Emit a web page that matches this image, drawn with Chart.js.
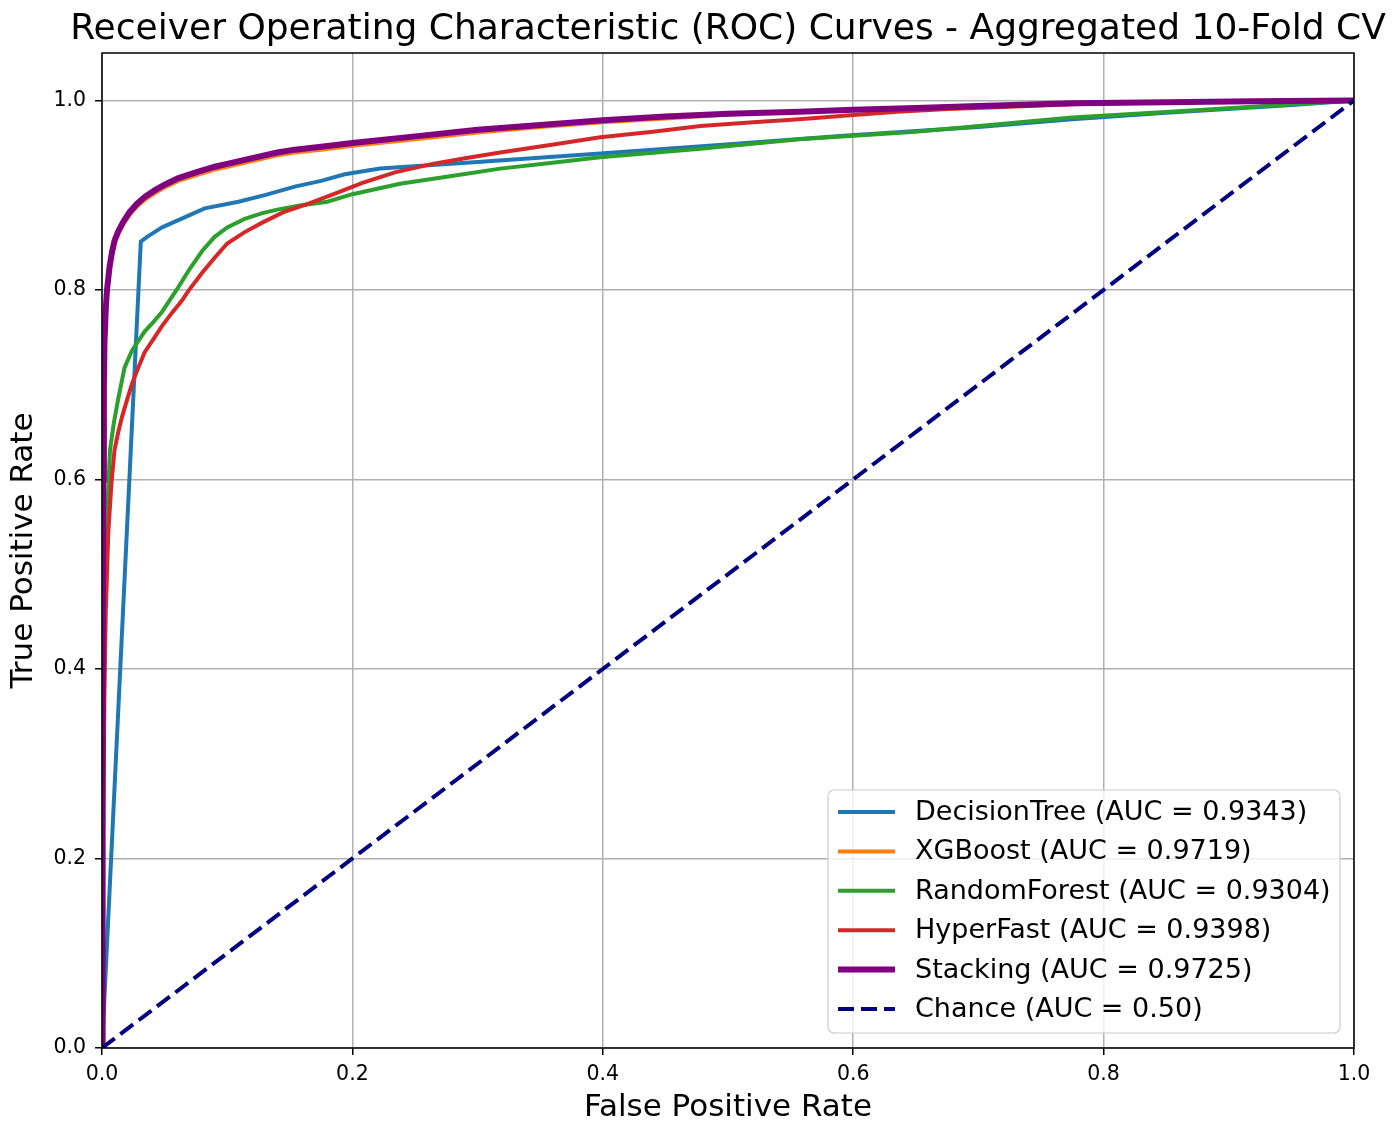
<!DOCTYPE html>
<html>
<head>
<meta charset="utf-8">
<script src="https://cdn.jsdelivr.net/npm/chart.js@4.4.1/dist/chart.umd.min.js"></script>
<style>
  html, body { margin: 0; padding: 0; background: #fff; }
  #wrap { width: 1398px; height: 1123px; }
</style>
</head>
<body>
<div id="wrap"><canvas id="rocChart" width="1398" height="1123"></canvas></div>
<script>
// ROC curve points
const fprDecisionTree = [0, 0.031, 0.036, 0.048, 0.065, 0.082, 0.109, 0.13, 0.154, 0.175, 0.194, 0.222, 0.30, 0.398, 0.504, 0.595, 0.70, 0.775, 0.85, 0.951, 1.0];
const tprDecisionTree = [0, 0.851, 0.856, 0.866, 0.876, 0.886, 0.893, 0.900, 0.909, 0.915, 0.922, 0.928, 0.935, 0.944, 0.954, 0.963, 0.972, 0.980, 0.987, 0.995, 1.0];

const fprXGBoost = [0, 0.0005, 0.001, 0.0015, 0.002, 0.003, 0.004, 0.006, 0.008, 0.010, 0.013, 0.017, 0.022, 0.028, 0.034, 0.042, 0.050, 0.061, 0.075, 0.090, 0.10, 0.12, 0.14, 0.154, 0.175, 0.20, 0.25, 0.30, 0.35, 0.40, 0.45, 0.50, 0.557, 0.60, 0.65, 0.70, 0.775, 0.85, 0.92, 1.0];
const tprXGBoost = [0, 0.34, 0.59, 0.69, 0.74, 0.775, 0.797, 0.821, 0.837, 0.849, 0.859, 0.869, 0.879, 0.888, 0.895, 0.902, 0.908, 0.915, 0.921, 0.927, 0.930, 0.936, 0.942, 0.945, 0.948, 0.952, 0.959, 0.966, 0.972, 0.977, 0.981, 0.985, 0.988, 0.990, 0.992, 0.994, 0.997, 0.998, 0.999, 1.0];

const fprRandomForest = [0, 0.0005, 0.001, 0.002, 0.003, 0.004, 0.0064, 0.0095, 0.0128, 0.018, 0.024, 0.029, 0.034, 0.041, 0.048, 0.054, 0.061, 0.070, 0.080, 0.090, 0.10, 0.114, 0.128, 0.141, 0.158, 0.18, 0.20, 0.238, 0.278, 0.318, 0.358, 0.398, 0.478, 0.557, 0.65, 0.775, 0.88, 0.951, 1.0];
const tprRandomForest = [0, 0.15, 0.30, 0.42, 0.50, 0.56, 0.631, 0.66, 0.684, 0.718, 0.736, 0.746, 0.756, 0.766, 0.777, 0.789, 0.803, 0.822, 0.841, 0.856, 0.866, 0.875, 0.881, 0.885, 0.889, 0.893, 0.901, 0.912, 0.920, 0.928, 0.934, 0.940, 0.949, 0.959, 0.967, 0.982, 0.990, 0.996, 1.0];

const fprHyperFast = [0, 0.0005, 0.001, 0.002, 0.003, 0.005, 0.0075, 0.010, 0.013, 0.016, 0.020, 0.024, 0.029, 0.034, 0.042, 0.048, 0.056, 0.064, 0.069, 0.08, 0.09, 0.10, 0.114, 0.128, 0.145, 0.165, 0.185, 0.208, 0.234, 0.264, 0.29, 0.318, 0.358, 0.398, 0.44, 0.478, 0.52, 0.557, 0.595, 0.635, 0.675, 0.72, 0.775, 0.85, 0.92, 1.0];
const tprHyperFast = [0, 0.12, 0.25, 0.38, 0.46, 0.543, 0.595, 0.631, 0.650, 0.666, 0.684, 0.701, 0.718, 0.734, 0.750, 0.762, 0.776, 0.789, 0.799, 0.818, 0.834, 0.849, 0.861, 0.871, 0.882, 0.891, 0.901, 0.913, 0.924, 0.933, 0.939, 0.945, 0.953, 0.961, 0.967, 0.973, 0.977, 0.980, 0.984, 0.988, 0.991, 0.993, 0.996, 0.998, 0.999, 1.0];

const fprStacking = [0, 0.0005, 0.001, 0.0015, 0.002, 0.003, 0.004, 0.006, 0.008, 0.010, 0.013, 0.017, 0.022, 0.028, 0.034, 0.042, 0.050, 0.061, 0.075, 0.090, 0.10, 0.12, 0.14, 0.154, 0.175, 0.20, 0.25, 0.30, 0.35, 0.40, 0.45, 0.50, 0.557, 0.60, 0.65, 0.70, 0.775, 0.85, 0.92, 1.0];
const tprStacking = [0, 0.35, 0.60, 0.70, 0.745, 0.78, 0.80, 0.824, 0.840, 0.852, 0.862, 0.872, 0.882, 0.891, 0.898, 0.905, 0.911, 0.918, 0.924, 0.930, 0.933, 0.939, 0.945, 0.948, 0.951, 0.955, 0.962, 0.969, 0.974, 0.979, 0.983, 0.986, 0.988, 0.990, 0.992, 0.994, 0.997, 0.998, 0.999, 1.0];

const fprChance = [0, 1];
const tprChance = [0, 1];

const modelNames = ["DecisionTree", "XGBoost", "RandomForest", "HyperFast", "Stacking", "Chance"];
const aucValues = ["0.9343", "0.9719", "0.9304", "0.9398", "0.9725", "0.50"];
const axisTicks = [0, 0.2, 0.4, 0.6, 0.8, 1.0];

const FONT = "'DejaVu Sans', sans-serif";

function pts(xs, ys) {
  return xs.map((x, i) => ({ x: x, y: ys[i] }));
}

function curve(idx, xs, ys, color, width, order, dash) {
  return {
    label: modelNames[idx] + " (AUC = " + aucValues[idx] + ")",
    data: pts(xs, ys),
    borderColor: color,
    backgroundColor: color,
    borderWidth: width,
    borderDash: dash || [],
    showLine: true,
    pointRadius: 0,
    tension: 0,
    order: order
  };
}

// matplotlib-style title, frame and in-axes legend
const extras = {
  id: "extras",
  afterDraw(chart) {
    const ctx = chart.ctx;
    const a = chart.chartArea;
    ctx.save();

    ctx.fillStyle = "#000";
    ctx.font = "36px " + FONT;
    ctx.textAlign = "center";
    ctx.textBaseline = "alphabetic";
    ctx.fillText("Receiver Operating Characteristic (ROC) Curves - Aggregated 10-Fold CV", (a.left + a.right) / 2, 39);

    ctx.strokeStyle = "#000";
    ctx.lineWidth = 1.5;
    ctx.strokeRect(a.left, a.top, a.right - a.left, a.bottom - a.top);

    // legend box
    const bx = 828, by = 790, bw = 512, bh = 243, r = 6;
    ctx.beginPath();
    ctx.moveTo(bx + r, by);
    ctx.arcTo(bx + bw, by, bx + bw, by + bh, r);
    ctx.arcTo(bx + bw, by + bh, bx, by + bh, r);
    ctx.arcTo(bx, by + bh, bx, by, r);
    ctx.arcTo(bx, by, bx + bw, by, r);
    ctx.closePath();
    ctx.fillStyle = "rgba(255,255,255,0.8)";
    ctx.fill();
    ctx.strokeStyle = "#cccccc";
    ctx.lineWidth = 1.2;
    ctx.stroke();

    ctx.font = "27px " + FONT;
    ctx.textAlign = "left";
    ctx.textBaseline = "middle";
    chart.data.datasets.forEach((ds, i) => {
      const y = 812 + i * 39.4;
      ctx.beginPath();
      ctx.setLineDash(ds.borderDash || []);
      ctx.strokeStyle = ds.borderColor;
      ctx.lineWidth = ds.borderWidth;
      ctx.moveTo(838, y);
      ctx.lineTo(895, y);
      ctx.stroke();
      ctx.setLineDash([]);
      ctx.fillStyle = "#000";
      ctx.fillText(ds.label, 915, y + 1);
    });
    ctx.restore();
  }
};

const tickOpts = {
  color: "#000",
  font: { family: FONT, size: 20.5 },
  padding: 9,
  callback: (v) => Number(v).toFixed(1)
};

new Chart(document.getElementById("rocChart").getContext("2d"), {
  type: "scatter",
  data: {
    datasets: [
      curve(0, fprDecisionTree, tprDecisionTree, "#1f77b4", 4, 5),
      curve(1, fprXGBoost, tprXGBoost, "#ff7f0e", 4, 4),
      curve(2, fprRandomForest, tprRandomForest, "#2ca02c", 4, 3),
      curve(3, fprHyperFast, tprHyperFast, "#d62728", 4, 2),
      curve(4, fprStacking, tprStacking, "#800080", 6, 1),
      curve(5, fprChance, tprChance, "#000080", 4, 0, [16, 7])
    ]
  },
  options: {
    responsive: false,
    animation: false,
    devicePixelRatio: 1,
    layout: { padding: { top: 53, right: 44, left: 0, bottom: 0 } },
    plugins: {
      legend: { display: false },
      title: { display: false },
      tooltip: { enabled: false }
    },
    scales: {
      x: {
        type: "linear",
        min: 0,
        max: 1,
        afterBuildTicks: (s) => { s.ticks = axisTicks.map(v => ({ value: v })); },
        afterFit: (s) => { s.height = 75; },
        ticks: Object.assign({ maxRotation: 0 }, tickOpts, { padding: 7 }),
        grid: { color: "#b0b0b0", lineWidth: 1.5, tickColor: "#000", tickWidth: 1.5, tickLength: 7 },
        border: { display: false },
        title: { display: true, text: "False Positive Rate", color: "#000", font: { family: FONT, size: 31, lineHeight: 1.0 }, padding: { top: 0, bottom: 0 } }
      },
      y: {
        type: "linear",
        min: 0,
        max: 1.05,
        afterBuildTicks: (s) => { s.ticks = axisTicks.map(v => ({ value: v })); },
        afterFit: (s) => { s.width = 102; },
        ticks: tickOpts,
        grid: { color: "#b0b0b0", lineWidth: 1.5, tickColor: "#000", tickWidth: 1.5, tickLength: 7 },
        border: { display: false },
        title: { display: true, text: "True Positive Rate", color: "#000", font: { family: FONT, size: 31, lineHeight: 1.0 }, padding: { top: 8, bottom: 0 } }
      }
    }
  },
  plugins: [extras]
});
</script>
</body>
</html>
